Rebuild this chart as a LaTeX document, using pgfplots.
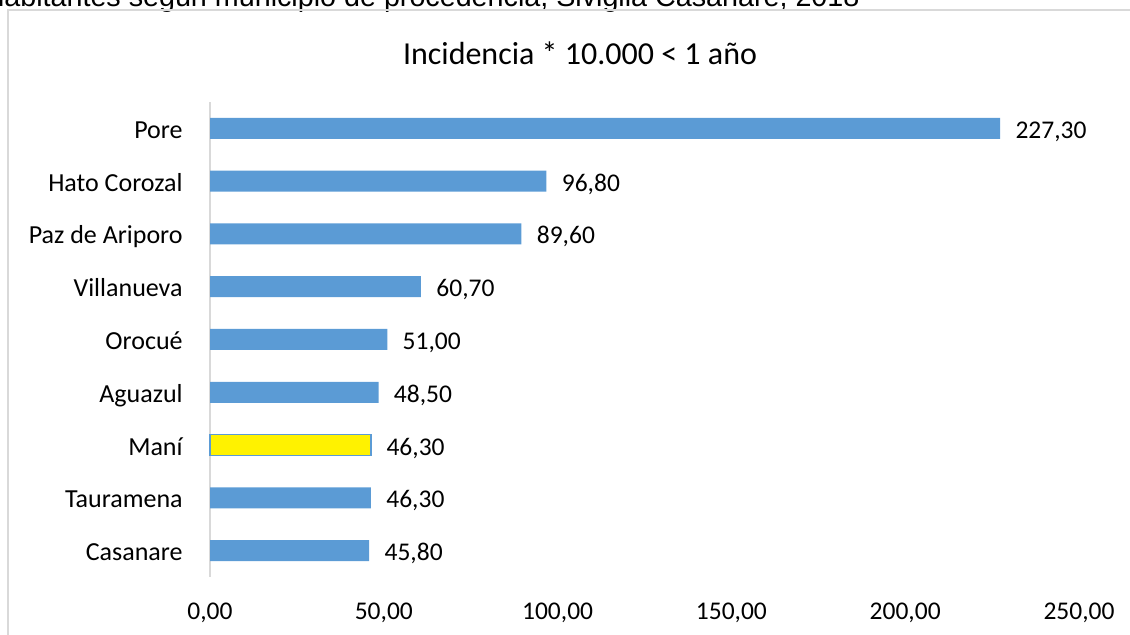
\documentclass[border=0pt]{standalone}
\usepackage{pgfplots}
\pgfplotsset{compat=1.18}
\usepackage{fontspec}
\setmainfont{Carlito}
\newfontfamily\arialfont{Liberation Sans}
\definecolor{barblue}{HTML}{5B9BD5}
\definecolor{framegray}{HTML}{D9D9D9}
\begin{document}
\begin{tikzpicture}
\begin{axis}[
  at={(105pt,29pt)}, anchor=south west,
  scale only axis, width=434.5pt, height=237.5pt,
  xbar, bar width=10.5pt, bar shift=0pt,
  xmin=0, xmax=250, ymin=-0.5, ymax=8.5,
  xtick={0,50,100,150,200,250},
  ytick={0,1,2,3,4,5,6,7,8},
  yticklabels={Casanare,Tauramena,Maní,Aguazul,Orocué,Villanueva,Paz de Ariporo,Hato Corozal,Pore},
  axis x line*=bottom,
  axis y line*=left,
  x axis line style={draw=none},
  y axis line style={framegray,line width=1pt,-},
  major tick length=0pt,
  xticklabel style={anchor=base,inner sep=0,yshift=-21.5pt,font=\fontsize{12.75}{15}\selectfont},
  yticklabel style={anchor=base east,inner sep=0,xshift=-13.5pt,yshift=-5pt,font=\fontsize{13}{15}\selectfont},
  /pgf/number format/.cd, fixed, fixed zerofill, precision=2, use comma, 1000 sep={}, assume math mode=true,
  /pgfplots/.cd,
  nodes near coords,
  nodes near coords style={anchor=base west,inner sep=0,xshift=7.5pt,yshift=-5pt,font=\fontsize{12.75}{15}\selectfont,black},
  point meta=explicit,
  clip=false,
]
\addplot[fill=barblue,draw=none] coordinates {
  (45.8,0) [45.8]
  (46.3,1) [46.3]
  (48.5,3) [48.5]
  (51.0,4) [51.0]
  (60.7,5) [60.7]
  (89.6,6) [89.6]
  (96.8,7) [96.8]
  (227.3,8) [227.3]
};
\addplot[fill=yellow,draw=barblue,line width=0.6pt] coordinates {
  (46.3,2) [46.3]
};
\end{axis}
% title
\node[anchor=base,inner sep=0] at (290pt,285pt) {\fontsize{16}{19}\selectfont Incidencia * 10.000 < 1 año};
\path (0pt,0pt) rectangle (565pt,317.5pt);
\begin{pgfinterruptboundingbox}
\begin{scope}
\clip (0pt,0pt) rectangle (565pt,317.5pt);
% partially visible heading
\node[anchor=base west,inner sep=0] at (-6pt,314pt) {\arialfont\fontsize{14.35}{16}\selectfont habitantes según municipio de procedencia, Sivigila Casanare, 2018};
% chart frame
\draw[framegray,line width=0.75pt] (4pt,-20pt) -- (4pt,312.5pt) -- (600pt,312.5pt);
\end{scope}
\end{pgfinterruptboundingbox}
\end{tikzpicture}
\end{document}
